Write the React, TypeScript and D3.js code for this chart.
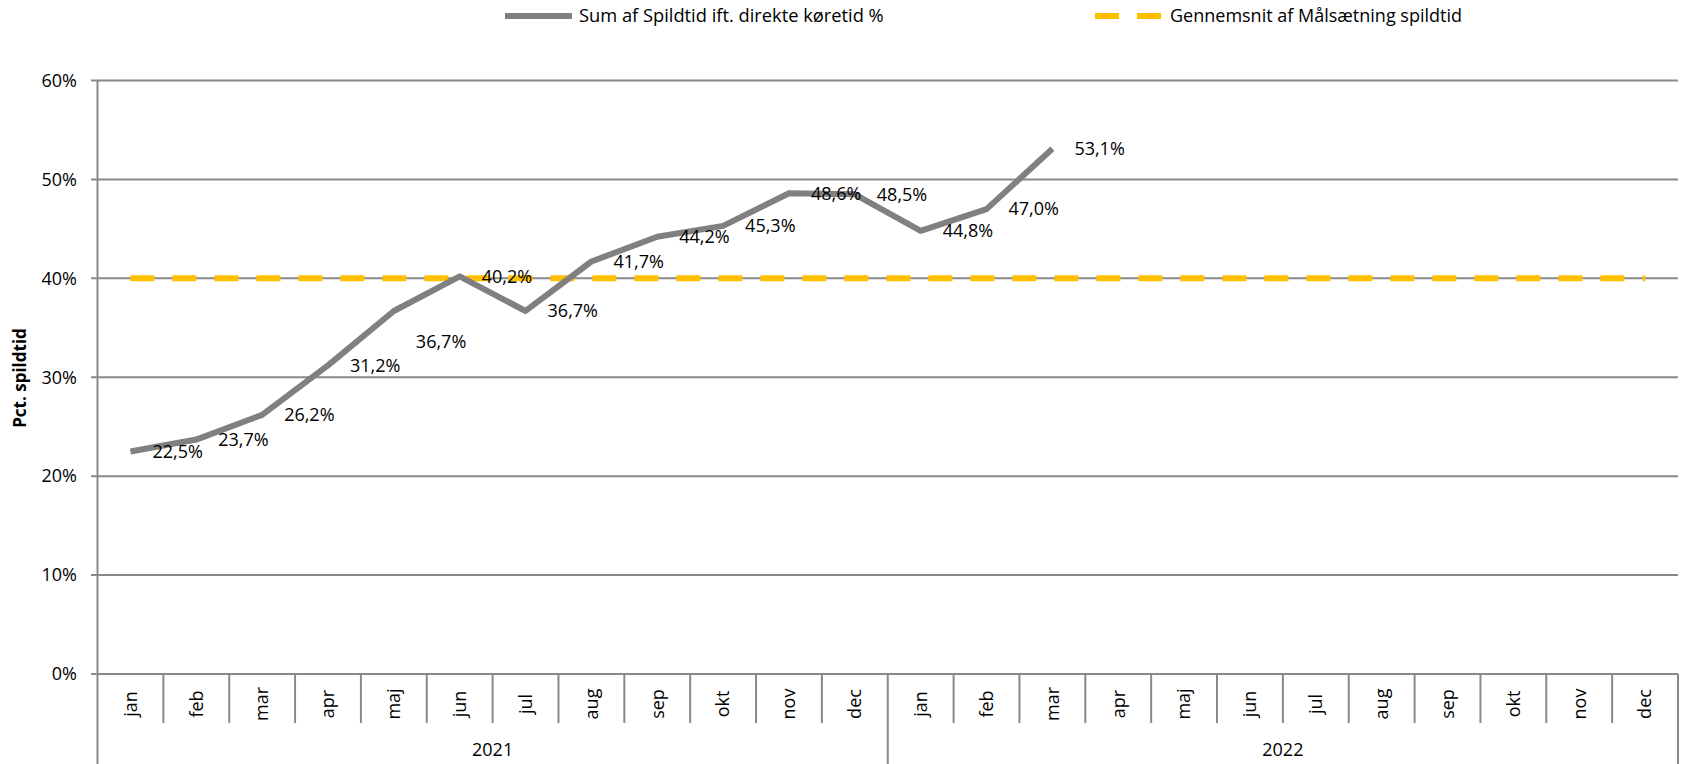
import React from "react";
import * as d3 from "d3";

// data
const years = ["2021", "2022"];
const months = ["jan", "feb", "mar", "apr", "maj", "jun", "jul", "aug", "sep", "okt", "nov", "dec"];
const spildtid = [22.5, 23.7, 26.2, 31.2, 36.7, 40.2, 36.7, 41.7, 44.2, 45.3, 48.6, 48.5, 44.8, 47.0, 53.1];
const maalsaetning = [40, 40, 40, 40, 40, 40, 40, 40, 40, 40, 40, 40, 40, 40, 40, 40, 40, 40, 40, 40, 40, 40, 40, 40];
const yTicks = [0, 10, 20, 30, 40, 50, 60];
const seriesNames = ["Sum af Spildtid ift. direkte køretid %", "Gennemsnit af Målsætning spildtid"];
const yTitle = "Pct. spildtid";

const W = 1681;
const H = 764;
const FONT = "'Open Sans', sans-serif";
const GRID = "#898989";
const LINE = "#808080";
const GOLD = "#FFC000";

const App = () => {
  const categories = years.flatMap((y) => months.map((m) => `${y}-${m}`));

  const x = d3.scaleBand<string>().domain(categories).range([97.5, 1678]);
  const y = d3.scaleLinear().domain([0, 60]).range([674, 80.5]);
  const cx = (i: number) => (x(categories[i]) as number) + x.bandwidth() / 2;

  const line = d3
    .line<number>()
    .x((_, i) => cx(i))
    .y((d) => y(d));

  const fmt = (v: number) => v.toFixed(1).replace(".", ",") + "%";

  // label nudges where the original placed them away from the point
  const labelDy: Record<number, number> = { 4: 31 };

  const bottom = y(0);

  return (
    <svg width={W} height={H} style={{ position: "absolute", left: 0, top: 0, background: "#fff" }} fontFamily={FONT}>
      {/* legend */}
      <g>
        <line x1={505} x2={572} y1={16} y2={16} stroke={LINE} strokeWidth={6} />
        <text x={579} y={16} dy="0.35em" fontSize={18.3} fill="#000">{seriesNames[0]}</text>
        <line x1={1095} x2={1161} y1={16} y2={16} stroke={GOLD} strokeWidth={6} strokeDasharray="24 18" />
        <text x={1170} y={16} dy="0.35em" fontSize={18} fill="#000">{seriesNames[1]}</text>
      </g>

      {/* y title */}
      <text
        transform={`translate(20,378) rotate(-90)`}
        textAnchor="middle"
        dy="0.35em"
        fontSize={17}
        fontWeight="bold"
      >
        {yTitle}
      </text>

      {/* grid + y ticks */}
      {yTicks.map((t) => (
        <g key={t}>
          <line x1={91} x2={1678} y1={y(t)} y2={y(t)} stroke={GRID} strokeWidth={2} />
          <text x={77} y={y(t)} dy="0.35em" textAnchor="end" fontSize={18}>
            {t}%
          </text>
        </g>
      ))}
      <line x1={97.5} x2={97.5} y1={y(60)} y2={H} stroke={GRID} strokeWidth={2} />

      {/* category axis */}
      {categories.map((c, i) => {
        const left = x(c) as number;
        const isYearEdge = i % months.length === 0;
        return (
          <g key={c}>
            {i > 0 && (
              <line x1={left} x2={left} y1={bottom} y2={isYearEdge ? H : 723} stroke={GRID} strokeWidth={2} />
            )}
            <text
              transform={`translate(${cx(i)},704) rotate(-90)`}
              textAnchor="middle"
              dy="0.35em"
              fontSize={18}
            >
              {months[i % months.length]}
            </text>
          </g>
        );
      })}
      <line x1={1678} x2={1678} y1={bottom} y2={H} stroke={GRID} strokeWidth={2} />
      {years.map((yr, k) => {
        const a = x(categories[k * months.length]) as number;
        const b = (x(categories[(k + 1) * months.length - 1]) as number) + x.bandwidth();
        return (
          <text key={yr} x={(a + b) / 2} y={750} dy="0.35em" textAnchor="middle" fontSize={18}>
            {yr}
          </text>
        );
      })}

      {/* target line */}
      <path d={line(maalsaetning) ?? ""} fill="none" stroke={GOLD} strokeWidth={6} strokeDasharray="24 18" />

      {/* main series */}
      <path d={line(spildtid) ?? ""} fill="none" stroke={LINE} strokeWidth={6} strokeLinejoin="round" />

      {spildtid.map((v, i) => (
        <text key={i} x={cx(i) + 22} y={y(v) + (labelDy[i] ?? 0)} dy="0.35em" fontSize={18}>
          {fmt(v)}
        </text>
      ))}
    </svg>
  );
};

export default App;
